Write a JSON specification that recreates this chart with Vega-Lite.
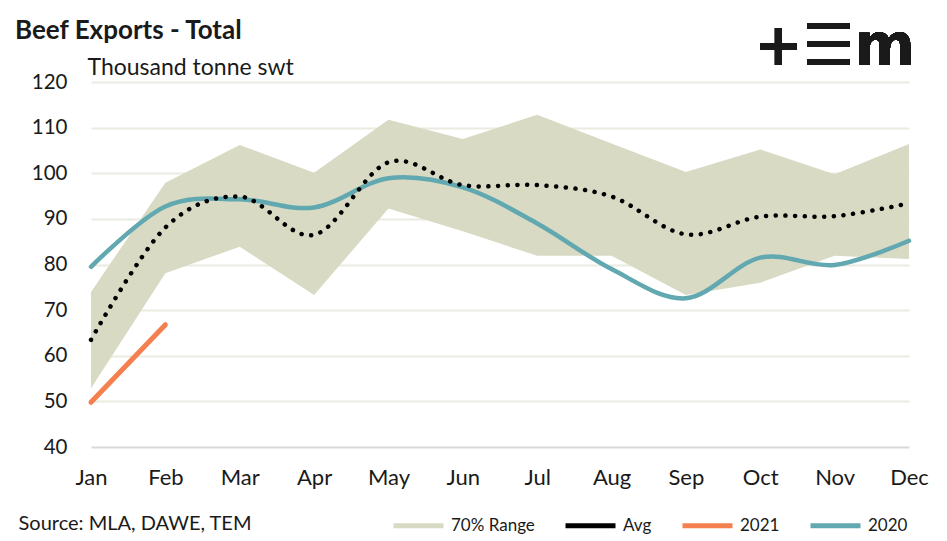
{
  "$schema": "https://vega.github.io/schema/vega-lite/v6.json",
  "width": 818,
  "height": 365,
  "autosize": "none",
  "padding": {"left": 91, "top": 82, "right": 38, "bottom": 94},
  "background": "white",
  "title": {
    "text": "Beef Exports - Total",
    "anchor": "start",
    "frame": "group",
    "dx": -76,
    "offset": -25,
    "font": "Lato",
    "fontSize": 26,
    "fontWeight": "bold",
    "color": "#1a1a1a"
  },
  "config": {
    "view": {"stroke": null},
    "font": "Lato",
    "axis": {
      "labelFont": "Lato",
      "labelFontSize": 20,
      "labelColor": "#1a1a1a",
      "titleFont": "Lato",
      "titleFontSize": 20,
      "titleFontWeight": "normal",
      "titleColor": "#1a1a1a",
      "domain": false,
      "ticks": false
    },
    "legend": {"labelFont": "Lato", "labelFontSize": 17, "labelColor": "#1a1a1a"}
  },
  "data": {
    "values": [
      {"month": "Jan", "lo": 52.9, "hi": 74.0, "avg": 63.5, "y2020": 79.5, "y2021": 49.8},
      {"month": "Feb", "lo": 78.1, "hi": 97.9, "avg": 88.1, "y2020": 92.7, "y2021": 66.8},
      {"month": "Mar", "lo": 83.9, "hi": 106.2, "avg": 94.9, "y2020": 94.3, "y2021": null},
      {"month": "Apr", "lo": 73.3, "hi": 100.1, "avg": 86.5, "y2020": 92.5, "y2021": null},
      {"month": "May", "lo": 92.3, "hi": 111.7, "avg": 102.4, "y2020": 98.9, "y2021": null},
      {"month": "Jun", "lo": 87.3, "hi": 107.5, "avg": 97.4, "y2020": 96.9, "y2021": null},
      {"month": "Jul", "lo": 81.9, "hi": 112.8, "avg": 97.4, "y2020": 89.0, "y2021": null},
      {"month": "Aug", "lo": 81.9, "hi": 106.5, "avg": 94.9, "y2020": 79.0, "y2021": null},
      {"month": "Sep", "lo": 73.3, "hi": 100.3, "avg": 86.6, "y2020": 72.6, "y2021": null},
      {"month": "Oct", "lo": 76.0, "hi": 105.2, "avg": 90.5, "y2020": 81.5, "y2021": null},
      {"month": "Nov", "lo": 81.9, "hi": 99.8, "avg": 90.6, "y2020": 79.9, "y2021": null},
      {"month": "Dec", "lo": 81.2, "hi": 106.4, "avg": 93.4, "y2020": 85.2, "y2021": null}
    ]
  },
  "encoding": {
    "x": {
      "field": "month",
      "type": "ordinal",
      "sort": null,
      "scale": {"type": "point", "padding": 0},
      "axis": {
        "labelAngle": 0,
        "labelPadding": 20,
        "labelFontSize": 22,
        "grid": false,
        "title": "Source: MLA, DAWE, TEM",
        "titleX": -73,
        "titleY": 76,
        "titleAlign": "left",
        "titleBaseline": "middle"
      }
    }
  },
  "layer": [
    {
      "mark": {"type": "area", "interpolate": "linear", "opacity": 1},
      "encoding": {
        "y": {
          "field": "lo",
          "type": "quantitative",
          "scale": {"domain": [40, 120], "nice": false, "zero": false},
          "axis": {
            "values": [40, 50, 60, 70, 80, 90, 100, 110, 120],
            "labelPadding": 24,
            "labelFontSize": 20.5,
            "grid": true,
            "gridWidth": 2,
            "gridColor": {"condition": {"test": "datum.value === 40", "value": "#d9d9d9"}, "value": "#ebebe1"},
            "title": "Thousand tonne swt",
            "titleFontSize": 23,
            "titleAngle": 0,
            "titleAlign": "left",
            "titleBaseline": "middle",
            "titleX": -4,
            "titleY": -15
          }
        },
        "y2": {"field": "hi"},
        "color": {
          "datum": "70% Range",
          "scale": {
            "domain": ["70% Range", "Avg", "2021", "2020"],
            "range": ["#d9dac4", "#000000", "#f4804f", "#62a8b0"]
          },
          "legend": {
            "title": null,
            "orient": "none",
            "direction": "horizontal",
            "legendX": 300,
            "legendY": 416,
            "padding": 0,
            "symbolType": "stroke",
            "symbolSize": 2500,
            "symbolStrokeWidth": 5,
            "columnPadding": 20,
            "labelOffset": 5
          }
        }
      }
    },
    {
      "mark": {"type": "line", "interpolate": "cardinal", "strokeWidth": 4.5, "strokeCap": "round"},
      "encoding": {
        "y": {"field": "y2020", "type": "quantitative"},
        "color": {"datum": "2020"}
      }
    },
    {
      "mark": {"type": "line", "interpolate": "linear", "strokeWidth": 5, "strokeCap": "round"},
      "encoding": {
        "y": {"field": "y2021", "type": "quantitative"},
        "color": {"datum": "2021"}
      }
    },
    {
      "mark": {"type": "line", "interpolate": "cardinal", "strokeWidth": 4.5, "strokeCap": "round", "strokeDash": [0.1, 9.6]},
      "encoding": {
        "y": {"field": "avg", "type": "quantitative"},
        "color": {"datum": "Avg"}
      }
    },
    {
      "mark": {"type": "text", "align": "right", "baseline": "middle", "font": "DejaVu Sans", "fontWeight": "bold", "fontSize": 58, "dx": 6, "clip": false},
      "encoding": {
        "x": {"datum": "Dec"},
        "y": {"datum": 127.5, "type": "quantitative"},
        "text": {"value": "+☰m"},
        "color": {"value": "#1a1a1a"}
      }
    }
  ]
}
